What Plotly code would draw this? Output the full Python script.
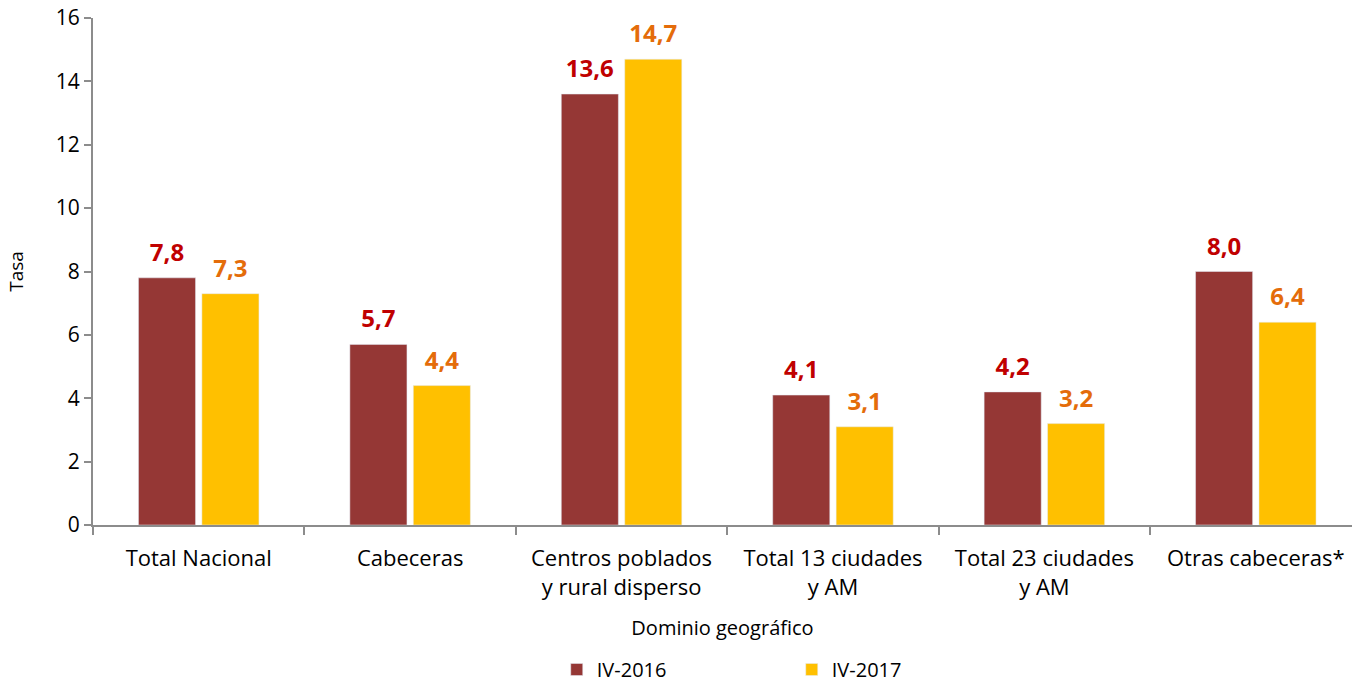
import plotly.graph_objects as go

categories = ["Total Nacional", "Cabeceras", "Centros poblados<br>y rural disperso",
              "Total 13 ciudades<br>y AM", "Total 23 ciudades<br>y AM", "Otras cabeceras*"]
iv_2016 = [7.8, 5.7, 13.6, 4.1, 4.2, 8.0]
iv_2017 = [7.3, 4.4, 14.7, 3.1, 3.2, 6.4]
y_ticks = [0, 2, 4, 6, 8, 10, 12, 14, 16]

xpos = list(range(len(categories)))
FONT = "'Open Sans', Lato, sans-serif"

fig = go.Figure()
fig.add_trace(go.Bar(x=xpos, y=iv_2016, name="IV-2016", marker_color="#953735",
                     offsetgroup="a"))
fig.add_trace(go.Bar(x=xpos, y=iv_2017, name="IV-2017", marker_color="#FFC000",
                     offsetgroup="b"))
# value labels above bars
fig.add_trace(go.Scatter(x=xpos, y=iv_2016, mode="markers+text", showlegend=False,
                         offsetgroup="a", hoverinfo="skip",
                         marker=dict(size=16, opacity=0),
                         text=iv_2016, texttemplate="<b>%{y:.1f}</b>", textposition="top center",
                         textfont=dict(color="#C00000", size=24, family=FONT), cliponaxis=False))
fig.add_trace(go.Scatter(x=xpos, y=iv_2017, mode="markers+text", showlegend=False,
                         offsetgroup="b", hoverinfo="skip",
                         marker=dict(size=16, opacity=0),
                         text=iv_2017, texttemplate="<b>%{y:.1f}</b>", textposition="top center",
                         textfont=dict(color="#E46C0A", size=24, family=FONT), cliponaxis=False))

fig.update_layout(
    width=1352, height=681,
    separators=",.",
    plot_bgcolor="white", paper_bgcolor="white",
    font=dict(family=FONT, size=21, color="#000000"),
    margin=dict(l=93, r=0, t=18, b=156, autoexpand=False),
    barmode="group", bargap=0.4, bargroupgap=0.1,
    scattermode="group", scattergap=0.4,
    showlegend=True,
    legend=dict(orientation="h", x=0.555, xanchor="center", y=-0.285, yanchor="middle",
                font=dict(size=20, family=FONT), entrywidth=190, itemwidth=30,
                traceorder="normal"),
    xaxis=dict(range=[-0.5, 5.455], tickvals=xpos, ticktext=categories,
               ticks="", showline=True, linecolor="#8c8c8c", linewidth=2,
               showgrid=False, zeroline=False, tickfont=dict(size=22),
               automargin=False, ticklabelstandoff=13,
               minor=dict(tickvals=[i - 0.5 for i in range(len(categories) + 1)],
                          ticks="outside", ticklen=8, tickcolor="#8c8c8c", tickwidth=2),
               title=dict(text="Dominio geográfico", font=dict(size=20), standoff=21)),
    yaxis=dict(range=[0, 16], tickvals=y_ticks, showline=True, linecolor="#8c8c8c",
               linewidth=2, ticks="outside", ticklen=7, tickcolor="#8c8c8c", tickwidth=2,
               showgrid=False, zeroline=False, tickfont=dict(size=21), automargin=False,
               title=dict(text="Tasa", font=dict(size=19), standoff=27)),
)

fig.write_html("out.html", config={"displayModeBar": False},
               post_script="document.body.style.margin='0';document.body.style.overflow='hidden';")
